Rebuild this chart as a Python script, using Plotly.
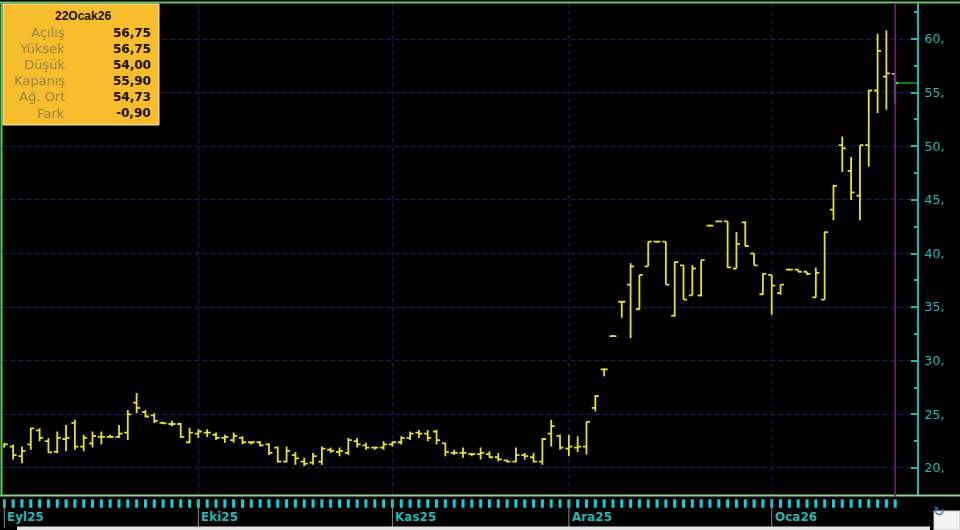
import plotly.graph_objects as go

# ---------------- data ----------------
months = ["Eyl25", "Eki25", "Kas25", "Ara25", "Oca26"]
month_bar_counts = [22, 22, 20, 23, 15]

opens = [22.0, 22.0, 21.1, 22.2, 23.5, 22.5, 21.5, 22.7, 24.2, 22.0,
         22.3, 22.9, 22.9, 22.9, 23.3, 26.1, 25.2, 24.9, 24.2, 24.1,
         24.1, 22.4, 23.2, 23.3, 23.1, 22.8, 22.6, 22.8, 22.4, 22.4,
         22.2, 21.9, 20.6, 21.2, 20.6, 20.5, 20.6, 21.7, 21.5, 21.4,
         22.5, 22.1, 21.9, 21.9, 22.2, 22.4, 22.8, 23.3, 23.2, 23.4,
         22.3, 21.4, 21.4, 21.3, 21.3, 21.3, 21.0, 20.7, 20.6, 21.2,
         21.0, 20.6, 23.2, 23.0, 21.8, 21.9, 22.0, 25.6, 29.2, 32.3,
         35.5, 37.1, 34.8, 38.8, 41.1, 41.1, 34.2, 38.9, 36.1, 36.1,
         42.6, 43.0, 43.0, 38.6, 42.9, 40.0, 36.2, 38.0, 36.3, 38.5,
         38.5, 38.3, 35.9, 35.7, 44.1, 50.1, 47.7, 45.4, 50.1, 55.2,
         56.5, 56.75]
highs = [22.35, 22.2, 22.0, 23.75, 23.7, 22.8, 23.4, 24.0, 24.5, 23.1,
         23.4, 23.4, 23.1, 24.0, 25.4, 27.0, 25.4, 25.1, 24.3, 24.4,
         24.2, 23.75, 23.6, 23.6, 23.3, 23.1, 23.3, 22.95, 22.5, 22.5,
         22.3, 22.0, 22.0, 21.5, 20.95, 21.4, 22.0, 21.9, 21.9, 22.8,
         22.8, 22.35, 22.0, 22.5, 22.5, 22.95, 23.4, 23.55, 23.55, 23.55,
         22.35, 21.7, 21.9, 21.4, 21.9, 21.55, 21.4, 20.8, 21.9, 21.4,
         21.4, 22.8, 24.5, 23.1, 23.1, 22.95, 24.3, 26.8, 29.3, 32.4,
         35.5, 39.1, 38.0, 41.1, 41.2, 41.1, 39.25, 38.9, 38.9, 39.4,
         42.7, 43.05, 43.0, 42.0, 43.0, 40.0, 38.16, 38.0, 37.1, 38.6,
         38.5, 38.3, 38.7, 42.05, 46.4, 50.9, 49.0, 50.1, 55.25, 60.5,
         60.8, 56.75]
lows = [21.9, 20.8, 20.45, 21.7, 22.5, 21.4, 21.4, 21.55, 21.7, 21.55,
        21.9, 22.2, 22.8, 22.8, 22.6, 25.1, 24.7, 24.2, 24.1, 23.9,
        22.8, 22.3, 22.8, 22.9, 22.6, 22.35, 22.35, 22.2, 22.2, 22.0,
        21.2, 20.5, 20.5, 20.3, 20.15, 20.3, 20.3, 21.4, 21.1, 21.2,
        21.9, 21.7, 21.7, 21.7, 22.0, 22.2, 22.6, 22.8, 22.5, 22.2,
        21.1, 21.2, 20.95, 21.1, 20.8, 20.95, 20.6, 20.5, 20.5, 20.8,
        20.5, 20.3, 22.0, 21.7, 21.1, 21.5, 21.25, 25.3, 28.55, 32.25,
        34.0, 32.1, 34.75, 38.8, 41.0, 37.1, 34.1, 35.7, 36.1, 36.0,
        42.5, 42.95, 38.65, 38.6, 40.65, 38.9, 36.15, 34.3, 36.15, 38.4,
        38.3, 38.0, 35.9, 35.7, 43.1, 47.6, 45.0, 43.1, 48.1, 53.1,
        53.4, 54.0]
closes = [22.2, 21.2, 21.6, 23.7, 22.8, 21.45, 22.8, 22.8, 22.0, 22.8,
          23.0, 22.9, 22.9, 23.2, 25.0, 25.6, 24.8, 24.4, 24.15, 24.1,
          22.9, 23.3, 23.4, 23.3, 22.8, 22.9, 23.0, 22.4, 22.4, 22.1,
          21.4, 20.6, 21.6, 20.9, 20.4, 21.1, 21.8, 21.6, 21.6, 22.6,
          22.2, 21.9, 21.9, 22.2, 22.4, 22.8, 23.2, 23.2, 22.8, 22.6,
          21.5, 21.4, 21.4, 21.3, 21.4, 21.0, 20.8, 20.6, 21.2, 21.1,
          20.6, 22.7, 23.9, 21.9, 22.0, 22.0, 24.3, 26.7, 29.2, 32.3,
          35.5, 38.8, 38.0, 41.1, 41.1, 37.1, 39.2, 35.7, 38.6, 39.4,
          42.6, 43.0, 38.7, 40.9, 40.7, 38.9, 38.1, 37.0, 37.1, 38.5,
          38.3, 38.1, 38.2, 42.0, 46.3, 49.8, 45.7, 50.1, 55.2, 58.9,
          56.8, 55.9]

y_tick_values = [20, 25, 30, 35, 40, 45, 50, 55, 60]
y_tick_labels = ["20,", "25,", "30,", "35,", "40,", "45,", "50,", "55,", "60,"]

info_title = "22Ocak26"
info_labels = ["Açılış", "Yüksek", "Düşük", "Kapanış", "Ağ. Ort", "Fark"]
info_values = ["56,75", "56,75", "54,00", "55,90", "54,73", "-0,90"]

# ---------------- helpers ----------------
W, H = 960, 530
def px(x):
    return x / W
def py(y):
    return 1 - y / H

n = len(opens)
xs = list(range(n))
month_starts = []
acc = 0
for c in month_bar_counts:
    month_starts.append(acc)
    acc += c
last = n - 1

BAR = "#e2e22e"
TEAL = "#26b4b4"
GRID = "#1c1c86"
GREEN = "#63c463"

fig = go.Figure()

fig.add_trace(go.Ohlc(
    x=xs[:-1], open=opens[:-1], high=highs[:-1], low=lows[:-1], close=closes[:-1],
    increasing=dict(line=dict(color=BAR, width=1.8)),
    decreasing=dict(line=dict(color=BAR, width=1.8)),
    tickwidth=0.4, showlegend=False, hoverinfo="skip",
    xaxis="x", yaxis="y"))
fig.add_trace(go.Ohlc(
    x=xs[-1:], open=opens[-1:], high=highs[-1:], low=lows[-1:], close=closes[-1:],
    increasing=dict(line=dict(color="#a9bda0", width=1.8)),
    decreasing=dict(line=dict(color="#a9bda0", width=1.8)),
    tickwidth=0.4, showlegend=False, hoverinfo="skip",
    xaxis="x", yaxis="y"))

# bottom strip: one cyan tick per trading day
fig.add_trace(go.Scatter(
    x=xs, y=[503.5] * n, mode="markers",
    marker=dict(symbol="line-ns", size=6, line=dict(color="#10d0d8", width=3)),
    showlegend=False, hoverinfo="skip", xaxis="x2", yaxis="y2"))

x_lo = -0.15
x_hi = 103.47

shapes = []
# plot frame lines
shapes.append(dict(type="line", xref="paper", yref="paper", x0=0, x1=1, y0=py(2.5), y1=py(2.5),
                   line=dict(color=GREEN, width=2)))
shapes.append(dict(type="line", xref="paper", yref="paper", x0=0, x1=1, y0=py(495.5), y1=py(495.5),
                   line=dict(color="#8fd08f", width=2)))
shapes.append(dict(type="line", xref="paper", yref="paper", x0=px(1.5), x1=px(1.5), y0=py(2), y1=py(496),
                   line=dict(color=GREEN, width=2)))
# vertical dashed grid at month starts
for ms in month_starts[1:]:
    shapes.append(dict(type="line", xref="x", yref="paper", x0=ms, x1=ms, y0=py(495), y1=py(3),
                       line=dict(color=GRID, width=1, dash="4px,4px"), layer="below"))
# month separators in the strip
for ms in month_starts:
    shapes.append(dict(type="line", xref="x2", yref="paper", x0=ms, x1=ms, y0=py(499), y1=py(528),
                       line=dict(color="#8a8a8a", width=1)))
# cursor line on last bar
shapes.append(dict(type="line", xref="x", yref="paper", x0=last, x1=last, y0=py(497), y1=py(3),
                   line=dict(color="#7c1c7c", width=1.5)))
# last price marker
shapes.append(dict(type="line", xref="x", yref="y", x0=last + 0.2, x1=x_hi, y0=closes[-1], y1=closes[-1],
                   line=dict(color="#1a9a1a", width=1.5)))
# bottom light strip and corner button
shapes.append(dict(type="rect", xref="paper", yref="paper", x0=px(17), x1=px(930), y0=0, y1=py(526.5),
                   line=dict(width=0), fillcolor="#e4e4e4"))
shapes.append(dict(type="rect", xref="paper", yref="paper", x0=px(934), x1=1, y0=0, y1=py(511),
                   line=dict(color="#c8c8c8", width=1), fillcolor="#f4f4f4"))
# info box
shapes.append(dict(type="rect", xref="paper", yref="paper", x0=px(3), x1=px(159), y0=py(125), y1=py(4),
                   line=dict(color="#f5e6b0", width=1), fillcolor="#f8bd2c"))

annotations = []
for ms, name in zip(month_starts, months):
    annotations.append(dict(xref="x2", yref="paper", x=ms, y=py(517), text=name, showarrow=False,
                            xanchor="left", yanchor="middle", xshift=1,
                            font=dict(family="DejaVu Sans", size=12, color=TEAL, weight="bold")))
annotations.append(dict(xref="paper", yref="paper", x=px(83), y=py(16), text=info_title, showarrow=False,
                        xanchor="center", yanchor="middle",
                        font=dict(family="Liberation Sans", size=12, color="#1a1400", weight="bold")))
row_y = [33, 49, 65, 81, 97, 113]
for yy, lab, val in zip(row_y, info_labels, info_values):
    annotations.append(dict(xref="paper", yref="paper", x=px(67), y=py(yy), text=lab, showarrow=False,
                            xanchor="right", yanchor="middle",
                            font=dict(family="DejaVu Sans", size=13, color="#9a8748")))
    annotations.append(dict(xref="paper", yref="paper", x=px(153), y=py(yy), text=val, showarrow=False,
                            xanchor="right", yanchor="middle",
                            font=dict(family="DejaVu Sans", size=12, color="#1a1400", weight="bold")))
# corner icon glyph
annotations.append(dict(xref="paper", yref="paper", x=px(947), y=py(521), text="↻", showarrow=False,
                        font=dict(family="DejaVu Sans", size=14, color="#2a6ab0")))

fig.update_layout(
    width=W, height=H,
    margin=dict(l=0, r=0, t=0, b=0),
    paper_bgcolor="#000000", plot_bgcolor="#000000",
    showlegend=False,
    xaxis=dict(domain=[px(3), px(917)], range=[x_lo, x_hi], anchor="y",
               showgrid=False, zeroline=False, showticklabels=False, showline=False,
               rangeslider=dict(visible=False), fixedrange=True),
    xaxis2=dict(domain=[px(3), px(917)], range=[x_lo, x_hi], anchor="y2", matches="x",
                showgrid=False, zeroline=False, showticklabels=False, showline=False),
    yaxis=dict(domain=[py(495), py(3)], range=[17.48, 63.36], side="right", anchor="x",
               tickmode="array", tickvals=y_tick_values, ticktext=y_tick_labels,
               showgrid=True, gridcolor=GRID, griddash="4px,4px", gridwidth=1,
               zeroline=False, showline=True, linecolor=TEAL, linewidth=2,
               ticks="inside", ticklen=6, tickwidth=2, tickcolor=TEAL,
               minor=dict(tickvals=[v + 2.5 for v in y_tick_values[:-1]] + [62.5, 17.5],
                          ticks="inside", ticklen=3, tickwidth=2, tickcolor=TEAL, showgrid=False),
               ticklabelstandoff=3,
               tickfont=dict(family="DejaVu Sans", size=12.5, color=TEAL)),
    yaxis2=dict(domain=[0, py(497)], range=[530, 497], anchor="x2",
                showgrid=False, zeroline=False, showticklabels=False, showline=False),
    shapes=shapes,
    annotations=annotations,
)

fig.write_html("out.html", config={"displayModeBar": False},
               post_script="document.body.style.margin='0';document.body.style.overflow='hidden';")
